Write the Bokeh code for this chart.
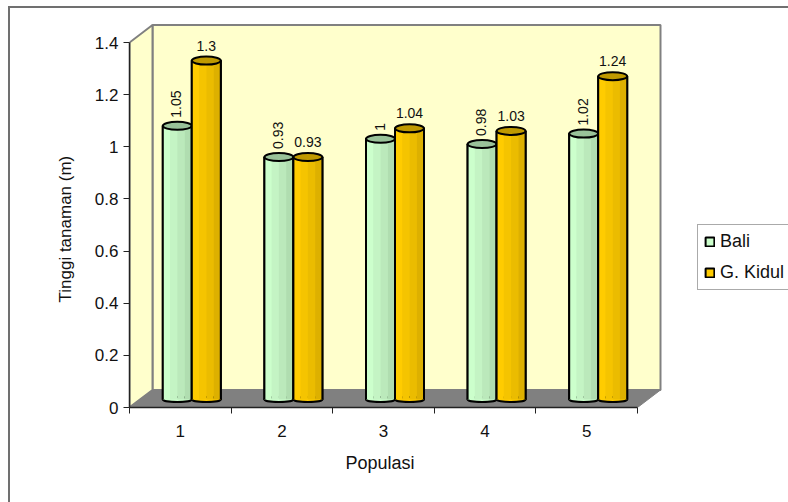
from bokeh.plotting import figure
from bokeh.models import (Range1d, FixedTicker, Legend, LegendItem, Title, InlineStyleSheet)
from bokeh.core.properties import value
from bokeh.embed import file_html
from bokeh.resources import INLINE
import math

populasi = [1, 2, 3, 4, 5]
bali = [1.05, 0.93, 1, 0.98, 1.02]
kidul = [1.3, 0.93, 1.04, 1.03, 1.24]
bali_labels = ["1.05", "0.93", "1", "0.98", "1.02"]
kidul_labels = ["1.3", "0.93", "1.04", "1.03", "1.24"]
y_ticks = [0, 0.2, 0.4, 0.6, 0.8, 1, 1.2, 1.4]

FONT = "Liberation Sans"
FRAME_W, FRAME_H = 535, 385
PX_X, PX_Y = 101.6, 260.7          # pixels per category / per metre
DEPTH_X, DEPTH_Y = 23 / PX_X, 17.5 / PX_Y  # oblique depth of the chart box
BAR_W = 29 / PX_X
SHIFT = 11.5 / PX_X                # bars stand in the middle of the floor
LIFT = 8 / PX_Y

p = figure(width=788, height=502, output_backend="svg", toolbar_location=None,
           x_range=Range1d(0.5, 0.5 + FRAME_W / PX_X),
           y_range=Range1d(0, FRAME_H / PX_Y),
           frame_width=FRAME_W, frame_height=FRAME_H,
           min_border_left=129, min_border_right=124,
           min_border_top=22, min_border_bottom=95,
           background_fill_color="white", border_fill_color="white")
p.outline_line_color = None
p.grid.visible = False

# Thin frame around the whole chart, open to the page edge on the right and bottom
p.stylesheets = [InlineStyleSheet(css=(
    ":host { position: relative; }"
    ":host::after { content: ''; position: absolute; left: 8px; top: 6px; right: 0; bottom: 0;"
    " border-left: 2px solid #707070; border-top: 2px solid #707070;"
    " pointer-events: none; z-index: 5; }"))]

# Chart box: back wall, side wall, floor
x0, x1, y1 = 0.5, 5.5, 1.4
WALL = "#FFFFCC"
GREY = "#808080"
p.patch([x0 + DEPTH_X, x1 + DEPTH_X, x1 + DEPTH_X, x0 + DEPTH_X],
        [DEPTH_Y, DEPTH_Y, y1 + DEPTH_Y, y1 + DEPTH_Y],
        fill_color=WALL, line_color=GREY, line_width=2)
p.patch([x0, x0 + DEPTH_X, x0 + DEPTH_X, x0],
        [0, DEPTH_Y, y1 + DEPTH_Y, y1],
        fill_color=WALL, line_color=GREY, line_width=2)
p.patch([x0, x0 + DEPTH_X, x1 + DEPTH_X, x1],
        [0, DEPTH_Y, DEPTH_Y, 0],
        fill_color=GREY, line_color=GREY, line_width=1)


def cylinders(values, offset, shades, top_color):
    """Draw one series as shaded cylinders; returns the renderer used by the legend."""
    cx = [c + SHIFT + offset for c in populasi]
    tops = [v + LIFT for v in values]
    bases = [LIFT] * len(values)
    body = p.vbar(x=cx, bottom=bases, top=tops, width=BAR_W, fill_color=shades[0],
                  line_color="black", line_width=2)
    p.ellipse(x=cx, y=bases, width=BAR_W, height=5 / PX_Y, fill_color=shades[0],
              line_color="black", line_width=2)
    n = len(shades)
    for i, shade in enumerate(shades):
        sx = [c - BAR_W / 2 + BAR_W * (i + 0.5) / n for c in cx]
        p.vbar(x=sx, bottom=bases, top=tops, width=BAR_W / n + 0.001,
               fill_color=shade, line_color=None)
    left = [c - BAR_W / 2 for c in cx]
    right = [c + BAR_W / 2 for c in cx]
    p.segment(left, bases, left, tops, line_color="black", line_width=2)
    p.segment(right, bases, right, tops, line_color="black", line_width=2)
    p.ellipse(x=cx, y=tops, width=BAR_W, height=8 / PX_Y, fill_color=top_color,
              line_color="black", line_width=2)
    return body, cx, tops


bali_r, bali_x, bali_top = cylinders(
    bali, -BAR_W / 2, ["#CCFFCC", "#C4F4C4", "#BBE9BB", "#B0DDB0"], "#99C299")
kidul_r, kidul_x, kidul_top = cylinders(
    kidul, BAR_W / 2, ["#FFCC00", "#F5C400", "#EBBC00", "#DDB000"], "#BF9900")

# Value labels: the first series reads upwards, the second horizontally
p.text(x=bali_x, y=bali_top, text=bali_labels, angle=math.pi / 2,
       text_font=value(FONT), text_font_size="14px", text_color="#111111",
       text_align="left", text_baseline="middle", x_offset=-1, y_offset=-8)
p.text(x=kidul_x, y=kidul_top, text=kidul_labels,
       text_font=value(FONT), text_font_size="14px", text_color="#111111",
       text_align="center", text_baseline="bottom", x_offset=0, y_offset=-10)

# Axes
yax = p.yaxis[0]
yax.ticker = FixedTicker(ticks=y_ticks)
yax.bounds = (0, 1.4)
yax.major_label_overrides = {0: "0", 1: "1"}
yax.major_tick_out = 6
yax.major_tick_in = 0
yax.minor_tick_out = 0
yax.minor_tick_in = 0
yax.axis_line_color = "#222222"
yax.axis_line_width = 1.5
yax.major_tick_line_color = "#222222"
yax.major_label_text_font = FONT
yax.major_label_text_font_size = "17px"
yax.major_label_text_color = "#111111"
yax.major_label_standoff = 5

xax = p.xaxis[0]
xax.ticker = FixedTicker(ticks=populasi, minor_ticks=[0.5, 1.5, 2.5, 3.5, 4.5, 5.5])
xax.bounds = (0.5, 5.5)
xax.major_tick_out = 0
xax.major_tick_in = 0
xax.minor_tick_out = 6
xax.minor_tick_in = 0
xax.axis_line_color = "#222222"
xax.axis_line_width = 1.5
xax.minor_tick_line_color = "#222222"
xax.major_label_text_font = FONT
xax.major_label_text_font_size = "17px"
xax.major_label_text_color = "#111111"
xax.major_label_standoff = 11

# Axis titles sit in the side panels, offset so they centre on the axis extents
p.add_layout(Title(text="Populasi", text_font=FONT, text_font_size="18px",
                   text_font_style="normal", text_color="#111111",
                   align="left", offset=216, standoff=22), "below")
p.add_layout(Title(text="Tinggi tanaman (m)", text_font=FONT, text_font_size="17px",
                   text_font_style="normal", text_color="#111111",
                   align="left", offset=105, standoff=34), "left")

# Legend beside the plot area
legend = Legend(items=[LegendItem(label="Bali", renderers=[bali_r]),
                       LegendItem(label="G. Kidul", renderers=[kidul_r])],
                location=(33, 117), orientation="vertical",
                label_text_font=FONT, label_text_font_size="18px",
                label_text_color="#111111",
                glyph_width=11, glyph_height=11, label_standoff=5,
                padding=6, spacing=10, margin=0,
                border_line_color="#555555", border_line_width=1.5,
                background_fill_color="white", background_fill_alpha=1)
p.add_layout(legend, "right")

open("out.html", "w").write(file_html(p, INLINE))
